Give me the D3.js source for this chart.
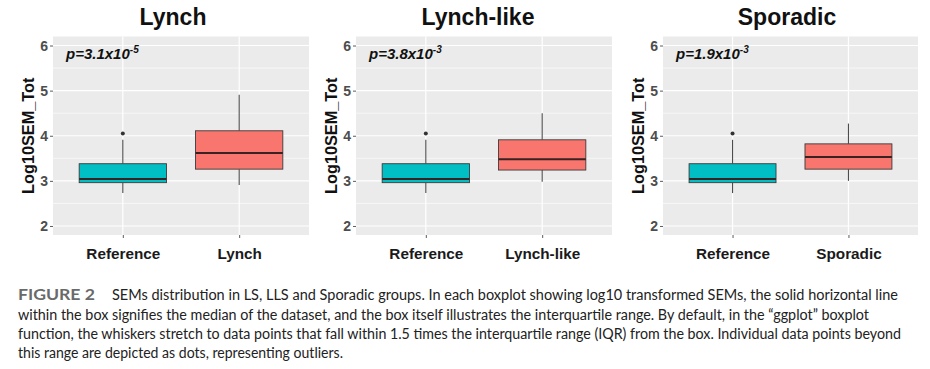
<!DOCTYPE html>
<html>
<head>
<meta charset="utf-8">
<script src="https://cdn.jsdelivr.net/npm/d3@7/dist/d3.min.js"></script>
<style>
  html, body { margin: 0; padding: 0; background: #ffffff; }
  svg { display: block; }
</style>
</head>
<body>
<svg id="chart" width="930" height="369"></svg>
<script>
// ---------------- DATA ----------------
const groups = ["Lynch", "Lynch-like", "Sporadic"];
const categoryRef = "Reference";
const pMantissa = ["3.1", "3.8", "1.9"];
const pExponent = ["-5", "-3", "-3"];
// box stats: [lower whisker, Q1, median, Q3, upper whisker]
const referenceStats = [2.73, 2.96, 3.04, 3.38, 3.91];
const referenceOutliers = [4.05];
const lynchStats = [2.91, 3.26, 3.62, 4.11, 4.91];
const lynchLikeStats = [2.98, 3.24, 3.48, 3.91, 4.50];
const sporadicStats = [3.00, 3.26, 3.53, 3.82, 4.27];
const groupStats = [lynchStats, lynchLikeStats, sporadicStats];
const groupOutliers = [[], [], []];
const yTicks = [2, 3, 4, 5, 6];
const yMinorTicks = [2.5, 3.5, 4.5, 5.5];
const yLabel = "Log10SEM_Tot";
const captionHead = "FIGURE 2";
const captionLines = [
  "SEMs distribution in LS, LLS and Sporadic groups. In each boxplot showing log10 transformed SEMs, the solid horizontal line",
  "within the box signifies the median of the dataset, and the box itself illustrates the interquartile range. By default, in the \u201cggplot\u201d boxplot",
  "function, the whiskers stretch to data points that fall within 1.5 times the interquartile range (IQR) from the box. Individual data points beyond",
  "this range are depicted as dots, representing outliers."
];

// ---------------- LAYOUT ----------------
const svg = d3.select("#chart");
const panels = [
  { left: 53, right: 309, titleX: 173 },
  { left: 356, right: 612, titleX: 478 },
  { left: 663, right: 918, titleX: 787 }
];
const plotTop = 36.5, plotBottom = 235;
const fill = { ref: "#00BFC4", grp: "#F8766D" };
const font = "'Liberation Sans', Arial, Helvetica, sans-serif";

const y = d3.scaleLinear().domain([1.8, 6.2]).range([plotBottom, plotTop]);

groups.forEach((g, i) => {
  const p = panels[i];
  const x = d3.scalePoint().domain([categoryRef, g]).range([p.left, p.right]).padding(0.6);
  const step = x.step();
  const bw = step * 0.75;
  const pg = svg.append("g");

  pg.append("rect").attr("x", p.left).attr("y", plotTop)
    .attr("width", p.right - p.left).attr("height", plotBottom - plotTop)
    .attr("fill", "#EBEBEB");

  pg.selectAll(".minor").data(yMinorTicks).enter().append("line")
    .attr("x1", p.left).attr("x2", p.right)
    .attr("y1", d => y(d)).attr("y2", d => y(d))
    .attr("stroke", "#ffffff").attr("stroke-width", 0.6);
  pg.selectAll(".major").data(yTicks).enter().append("line")
    .attr("x1", p.left).attr("x2", p.right)
    .attr("y1", d => y(d)).attr("y2", d => y(d))
    .attr("stroke", "#ffffff").attr("stroke-width", 1.2);
  pg.selectAll(".vmajor").data(x.domain()).enter().append("line")
    .attr("x1", d => x(d)).attr("x2", d => x(d))
    .attr("y1", plotTop).attr("y2", plotBottom)
    .attr("stroke", "#ffffff").attr("stroke-width", 1.2);

  const yAxis = d3.axisLeft(y).tickValues(yTicks).tickSize(3).tickPadding(2).tickFormat(d3.format("d"));
  const ya = pg.append("g").attr("transform", `translate(${p.left},0)`).call(yAxis);
  ya.select(".domain").remove();
  ya.selectAll(".tick line").attr("stroke", "#333333").attr("stroke-width", 0.8);
  ya.selectAll(".tick text").attr("fill", "#4D4D4D").attr("font-family", font)
    .attr("font-weight", "bold").attr("font-size", 14);

  const xAxis = d3.axisBottom(x).tickSize(3).tickPadding(6);
  const xa = pg.append("g").attr("transform", `translate(0,${plotBottom})`).call(xAxis);
  xa.select(".domain").remove();
  xa.selectAll(".tick line").attr("stroke", "#333333").attr("stroke-width", 0.8);
  xa.selectAll(".tick text").attr("fill", "#1A1A1A").attr("font-family", font)
    .attr("font-weight", "bold").attr("font-size", 15.3).attr("dy", "0.95em");

  const boxes = [
    { cat: categoryRef, s: referenceStats, out: referenceOutliers, col: fill.ref },
    { cat: g, s: groupStats[i], out: groupOutliers[i], col: fill.grp }
  ];
  boxes.forEach(b => {
    const cx = x(b.cat);
    const [lo, q1, med, q3, hi] = b.s;
    pg.append("line").attr("x1", cx).attr("x2", cx).attr("y1", y(q3)).attr("y2", y(hi))
      .attr("stroke", "#4d4d4d").attr("stroke-width", 1.1);
    pg.append("line").attr("x1", cx).attr("x2", cx).attr("y1", y(q1)).attr("y2", y(lo))
      .attr("stroke", "#4d4d4d").attr("stroke-width", 1.1);
    pg.append("rect").attr("x", cx - bw / 2).attr("y", y(q3))
      .attr("width", bw).attr("height", y(q1) - y(q3))
      .attr("fill", b.col).attr("stroke", "#3a3a3a").attr("stroke-width", 0.9);
    pg.append("line").attr("x1", cx - bw / 2).attr("x2", cx + bw / 2)
      .attr("y1", y(med)).attr("y2", y(med))
      .attr("stroke", "#3a2222").attr("stroke-width", 2);
    pg.selectAll(null).data(b.out).enter().append("circle")
      .attr("cx", cx).attr("cy", d => y(d)).attr("r", 2)
      .attr("fill", "#333333");
  });

  const pt = pg.append("text").attr("x", p.left + 13).attr("y", 59)
    .attr("font-family", font).attr("font-weight", "bold").attr("font-style", "italic")
    .attr("font-size", 15).attr("fill", "#111111");
  pt.append("tspan").text("p=" + pMantissa[i] + "x10");
  pt.append("tspan").attr("dy", -6).attr("font-size", 10).text(pExponent[i]);

  pg.append("text")
    .attr("transform", `translate(${p.left - 19},${(plotTop + plotBottom) / 2}) rotate(-90)`)
    .attr("text-anchor", "middle").attr("font-family", font).attr("font-weight", "bold")
    .attr("font-size", 16.3).attr("fill", "#111111").text(yLabel);

  pg.append("text").attr("x", p.titleX).attr("y", 25).attr("text-anchor", "middle")
    .attr("font-family", font).attr("font-weight", "bold").attr("font-size", 23)
    .attr("fill", "#111111").text(g);
});

// ---------------- CAPTION ----------------
const capFont = "Lato, 'Open Sans', sans-serif";
const capBase = [300, 320, 339, 358];
const capStart = [112, 18, 18, 18];
const capEnd = [898, 869, 901, 343];
svg.append("text").attr("x", 18).attr("y", capBase[0])
  .attr("font-family", "Lato, 'Open Sans', sans-serif").attr("font-weight", "bold")
  .attr("font-size", 14.5).attr("fill", "#6a6a6a")
  .attr("textLength", 77).attr("lengthAdjust", "spacingAndGlyphs")
  .text(captionHead);
captionLines.forEach((t, k) => {
  svg.append("text").attr("x", capStart[k]).attr("y", capBase[k])
    .attr("font-family", capFont).attr("font-size", 14.5).attr("fill", "#222222")
    .attr("textLength", capEnd[k] - capStart[k]).attr("lengthAdjust", "spacingAndGlyphs")
    .text(t);
});
</script>
</body>
</html>
